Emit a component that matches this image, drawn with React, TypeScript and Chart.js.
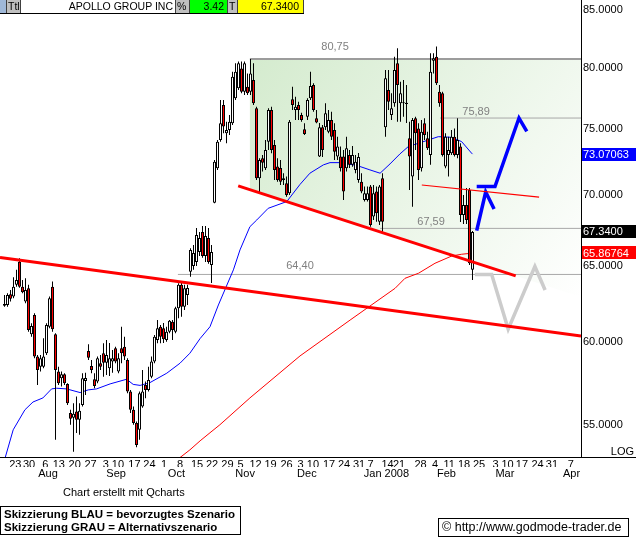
import React, { useEffect, useRef } from 'react';
import { Chart, registerables } from 'chart.js';

Chart.register(...registerables);

// ---------- DATA (daily candles, index = trading day from 17 Jul 2007) ----------
const opens = [62.32,62.37,63.08,62.92,63.70,65.27,63.58,62.59,63.47,60.48,61.72,59.08,58.46,58.46,59.29,60.96,63.58,60.48,58.16,57.75,58.00,57.41,55.68,55.41,55.77,55.29,56.16,57.59,59.43,58.50,57.69,57.55,58.67,59.29,58.70,58.36,58.77,59.60,58.16,59.60,59.70,58.87,56.95,55.87,55.10,54.71,56.06,57.35,57.05,57.85,58.77,60.12,60.96,60.86,60.12,60.64,61.28,60.64,62.15,63.70,62.26,63.03,64.59,64.98,65.25,65.94,67.34,65.66,66.92,65.05,69.44,72.00,74.16,76.94,74.68,74.94,75.48,77.48,78.30,79.95,78.02,78.43,78.02,78.98,76.67,71.25,72.75,72.00,74.03,76.53,73.78,72.12,72.02,71.12,70.87,70.13,77.40,76.53,76.94,76.14,75.00,76.00,77.48,78.57,75.87,72.88,75.16,75.16,74.81,75.74,74.94,72.88,72.88,72.88,72.00,73.01,72.25,71.87,71.12,70.99,69.64,69.64,70.62,68.43,70.25,68.07,71.25,75.16,78.16,76.14,77.07,80.38,77.07,77.07,77.12,74.29,71.37,75.87,75.07,72.00,75.48,74.29,73.01,80.60,80.94,78.02,77.89,72.12,73.01,73.14,74.42,73.01,73.65,68.55,69.27,70.37,64.71];
const highs = [63.03,63.14,63.36,64.21,64.71,65.51,64.03,64.14,63.70,61.18,61.83,59.18,59.18,60.23,61.18,62.92,63.92,60.54,58.46,58.16,58.06,57.45,55.87,56.26,56.65,56.26,58.06,58.08,59.85,58.87,58.06,59.08,59.18,59.91,60.12,59.93,59.49,59.70,59.29,60.96,60.33,58.98,57.05,56.06,55.19,56.95,58.26,57.55,58.46,59.08,60.43,61.39,61.07,61.20,60.96,61.39,61.39,62.26,63.81,63.92,63.70,63.70,66.20,66.43,67.62,67.34,67.76,67.76,67.62,66.43,72.62,74.16,77.34,77.34,75.60,76.14,79.67,80.38,80.52,80.52,80.52,79.53,80.75,80.38,76.80,72.75,73.01,74.16,76.67,76.80,74.16,72.75,72.62,71.62,71.37,75.74,78.43,77.61,77.20,76.32,75.48,77.48,79.67,78.71,76.53,75.50,75.34,77.07,76.53,76.40,75.48,74.42,73.65,73.39,74.42,73.39,73.70,73.01,73.16,71.62,70.62,70.62,70.74,70.74,70.62,70.74,71.62,79.81,79.81,77.89,80.94,81.65,78.84,78.98,78.57,75.60,75.90,76.00,75.48,75.74,75.87,74.81,81.22,81.22,81.80,78.57,78.02,74.68,74.42,74.94,75.07,75.87,73.91,70.00,70.52,70.52,67.40];
const lows = [62.26,62.26,62.59,62.81,63.58,63.50,63.14,62.48,60.64,60.33,58.98,57.35,58.16,58.36,59.18,60.86,60.64,54.14,57.35,57.25,57.35,56.16,55.00,53.47,54.52,54.43,56.06,56.75,58.87,58.06,57.15,57.45,58.26,57.85,57.95,57.89,58.08,58.67,58.06,58.67,58.87,56.85,55.68,55.00,53.72,54.14,55.99,56.55,56.95,57.75,58.67,59.91,59.91,59.93,60.01,60.54,60.12,60.54,61.50,61.61,62.04,62.37,64.25,64.71,64.98,65.66,65.53,65.25,65.12,63.83,69.40,71.87,74.03,74.68,73.91,74.55,75.34,77.34,78.16,77.89,77.75,77.75,77.75,76.94,71.12,70.13,71.74,71.87,73.39,73.14,71.12,70.99,70.74,70.74,69.88,70.00,76.53,75.74,75.74,75.60,74.55,75.74,77.34,76.40,75.48,72.85,72.85,74.94,74.68,74.16,72.62,72.62,71.74,69.64,71.74,72.02,72.10,71.62,70.90,70.13,69.52,69.52,67.71,68.19,68.07,67.83,67.36,74.42,76.53,75.74,76.80,75.60,75.60,76.00,75.50,70.37,69.15,73.39,71.12,71.74,74.16,73.39,72.25,79.53,78.57,76.80,72.88,72.00,71.37,73.01,72.88,72.75,68.05,67.90,67.90,65.05,64.03];
const closes = [62.44,63.03,62.77,63.58,64.03,63.58,63.21,63.36,60.75,61.01,59.08,58.26,58.98,59.08,61.07,62.81,60.80,58.26,57.45,58.00,57.45,56.26,55.35,55.64,55.29,55.81,57.75,57.77,59.01,58.26,57.29,58.98,58.46,58.70,59.18,58.98,58.98,58.77,58.98,59.29,59.08,56.95,55.87,55.10,53.85,56.85,56.95,57.05,57.65,58.77,60.33,60.86,60.33,60.16,60.64,61.35,60.75,62.15,63.70,62.26,63.47,63.49,66.08,65.87,67.13,66.92,65.66,67.06,65.25,65.94,72.49,74.03,75.48,75.21,74.94,75.60,79.25,79.67,80.38,78.02,80.38,77.89,79.53,77.08,71.25,72.62,72.41,73.39,76.53,73.39,71.87,71.12,70.99,71.25,70.00,75.60,76.94,76.80,76.53,75.74,74.63,77.34,78.49,76.53,75.53,75.16,73.39,76.27,75.74,74.42,73.26,73.65,72.00,70.25,73.52,72.25,73.01,72.49,72.85,70.25,70.13,70.13,67.83,70.13,68.67,70.62,68.07,79.12,77.20,76.67,79.81,78.57,77.89,77.12,77.02,72.88,75.74,74.68,71.87,74.81,74.55,73.52,79.67,80.80,78.71,77.07,73.01,74.42,73.39,74.42,73.01,74.16,68.55,69.27,68.19,65.16,67.34];

// moving averages (read positions along the index axis)
const ma50Idx = [0,2.9,6.8,9.5,12.8,15.7,17.4,20.7,25.2,27.9,30.7,35.2,40.7,42.9,45.2,48.5,54.1,58.5,61.8,65.2,68.5,71.3,76.3,78.5,81.8,84.1,87.9,94.1,98.5,101.8,106.3,108.5,111.8,117.4,121.8,125.2,128.5,131.8,134.6,139.2,144.6,149.1,152.4,155.7,156];
const ma50Val = [53.0,54.71,55.87,56.33,56.57,57.11,57.15,57.11,56.89,57.05,57.11,57.41,57.69,57.38,57.32,57.49,58.06,58.67,59.29,60.21,60.96,62.37,64.71,66.08,67.71,68.19,69.03,69.52,70.78,71.62,72.25,72.42,72.42,72.21,71.87,71.62,72.32,73.08,73.65,74.0,74.42,74.37,74.03,73.14,73.07063];
const ma200Idx = [58.2,61.8,65.2,68.5,71.8,81.8,98.5,115.2,130.2,133.5,138,143.5,149.1,152.4,155.7,156];
const ma200Val = [53.1,53.57,54.08,54.54,55.0,56.57,59.12,61.39,63.47,64.14,64.48,65.16,65.66,65.78,65.85,65.86764];

// drawn trend lines and scenario sketches [index, price]
const trendLongX = [-1.5, 192.17];
const trendLongY = [65.55, 60.37];
const channelX = [77.9, 170.4];
const channelY = [70.67, 64.30];
const thinRedX = [139.1, 178.2];
const thinRedY = [70.74, 69.84];
const blueLowX = [157.4, 160.4, 163.2];
const blueLowY = [67.43, 70.22, 68.98];
const blueHighX = [157.4, 163.5, 171.5, 174.1];
const blueHighY = [70.62, 70.62, 75.89, 74.83];
const grayX = [156.8, 162.4, 167.9, 176.8, 180.2];
const grayY = [64.40, 64.40, 60.81, 64.94, 63.36];

// horizontal levels
const levelValues = [80.75, 75.89, 67.59, 64.40];
const levelStart = [81.8, 145.2, 125.2, 57.8];
const levelLabelX = [110.2, 157.2, 142.2, 98.5];

// axes
const yTickValues = [55, 60, 65, 70, 75, 80, 85];
const dayTickPos = [3.6,8.2,13.6,18.1,23.4,28.7,33.8,37.8,43.3,48.3,53.2,58.5,64.2,69.2,74.3,78.7,83.7,88.7,94.0,98.7,102.8,108.2,113.2,118.2,122.0,127.7,131.5,138.7,143.5,148.2,153.2,158.2,163.7,167.7,172.5,177.7,182.5,188.8];
const dayTickLabels = ['23','30','6','13','20','27','3','10','17','24','1','8','15','22','29','5','12','19','26','3','10','17','24','31','7','14','21','28','4','11','18','25','3','10','17','24','31','7'];
const monthTickPos = [14.5, 37.2, 57.3, 80.2, 100.8, 127.3, 147.3, 166.8, 189.0];
const monthTickLabels = ['Aug', 'Sep', 'Oct', 'Nov', 'Dec', 'Jan 2008', 'Feb', 'Mar', 'Apr'];

const X_MIN = -1.5;
const X_MAX = 192.17;
const Y_MIN = 53.17;
const Y_MAX = 85.9;

const FONT = '"Liberation Sans", Arial, sans-serif';

const pts = (xs: number[], ys: number[]) => xs.map((x, i) => ({ x, y: ys[i] }));

const noPad = (s: any) => { s.paddingTop = 0; s.paddingBottom = 0; s.paddingLeft = 0; s.paddingRight = 0; };

const shadePlugin = {
  id: 'shade',
  beforeDatasetsDraw(chart: any) {
    const { ctx, chartArea, scales } = chart;
    const xs = scales.x, ys = scales.y;
    const x0 = xs.getPixelForValue(levelStart[0]);
    const yTop = ys.getPixelForValue(levelValues[0]);
    const cx1 = xs.getPixelForValue(channelX[0]), cy1 = ys.getPixelForValue(channelY[0]);
    const cx2 = xs.getPixelForValue(channelX[1]), cy2 = ys.getPixelForValue(channelY[1]);
    const slope = (cy2 - cy1) / (cx2 - cx1);
    const yAt = (x: number) => cy1 + slope * (x - cx1);
    const xR = chartArea.right;
    ctx.save();
    const g = ctx.createLinearGradient(x0, yTop, xR, yAt(xR));
    g.addColorStop(0, 'rgb(212,235,206)');
    g.addColorStop(1, 'rgb(255,255,255)');
    ctx.fillStyle = g;
    ctx.beginPath();
    ctx.moveTo(x0, yTop);
    ctx.lineTo(xR, yTop);
    ctx.lineTo(xR, yAt(xR));
    ctx.lineTo(x0, yAt(x0));
    ctx.closePath();
    ctx.fill();
    ctx.restore();
  },
  afterDatasetsDraw(chart: any) {
    const { ctx, scales } = chart;
    const gaps = [9, 3.5, 3.5, 5];
    ctx.save();
    ctx.font = '11px ' + FONT;
    ctx.fillStyle = '#808080';
    ctx.textAlign = 'center';
    ctx.textBaseline = 'alphabetic';
    levelValues.forEach((v, i) => {
      const x = scales.x.getPixelForValue(levelLabelX[i]);
      const y = scales.y.getPixelForValue(v) - gaps[i];
      ctx.fillText(v.toFixed(2).replace('.', ','), x, y);
    });
    ctx.restore();
  },
  afterDraw(chart: any) {
    const { ctx, chartArea, scales, width } = chart;
    ctx.save();
    ctx.strokeStyle = '#000';
    ctx.lineWidth = 1;
    ctx.beginPath();
    ctx.moveTo(chartArea.right + 0.5, 0);
    ctx.lineTo(chartArea.right + 0.5, chartArea.bottom + 0.5);
    ctx.moveTo(0, chartArea.bottom + 0.5);
    ctx.lineTo(width, chartArea.bottom + 0.5);
    ctx.stroke();
    const boxes = [
      { v: ma50Val[ma50Val.length - 1], bg: '#0000ff', t: ma50Val[ma50Val.length - 1].toFixed(5) },
      { v: closes[closes.length - 1], bg: '#000000', t: closes[closes.length - 1].toFixed(4) },
      { v: ma200Val[ma200Val.length - 1], bg: '#ff0000', t: ma200Val[ma200Val.length - 1].toFixed(5) },
    ];
    ctx.font = '11px ' + FONT;
    ctx.textBaseline = 'middle';
    ctx.textAlign = 'left';
    boxes.forEach((b) => {
      const y = scales.y.getPixelForValue(b.v);
      ctx.fillStyle = b.bg;
      ctx.fillRect(chartArea.right + 1, Math.round(y - 6.5), width - chartArea.right - 1, 13);
      ctx.fillStyle = '#fff';
      ctx.fillText(b.t, chartArea.right + 2, y + 0.5);
    });
    ctx.fillStyle = '#000';
    ctx.textAlign = 'right';
    ctx.textBaseline = 'alphabetic';
    ctx.fillText('LOG', width - 2, chartArea.bottom - 2);
    ctx.restore();
  },
};

export default function App() {
  const ref = useRef<HTMLCanvasElement>(null);
  useEffect(() => {
    Chart.defaults.font.family = FONT;
    const bodies = opens.map((o, i) => ({ x: i, y: [Math.min(o, closes[i]), Math.max(o, closes[i])] }));
    const wicks = lows.map((l, i) => ({ x: i, y: [l, highs[i]] }));
    const bodyColors = opens.map((o, i) => (closes[i] >= o ? '#ffffff' : '#ff0000'));
    const lineDs = (data: any[], color: string, w: number, order: number) => ({
      type: 'line' as const, data, borderColor: color, borderWidth: w, pointRadius: 0,
      fill: false, tension: 0, order, borderCapStyle: 'butt' as const, borderJoinStyle: 'miter' as const,
    });
    const datasets: any[] = [
      lineDs(pts(trendLongX, trendLongY), '#ff0000', 3, 0),
      lineDs(pts(channelX, channelY), '#ff0000', 3, 0),
      lineDs(pts(thinRedX, thinRedY), '#ff0000', 1.2, 0),
      lineDs(pts(blueLowX, blueLowY), '#0000ff', 3.5, 0),
      lineDs(pts(blueHighX, blueHighY), '#0000ff', 3.5, 0),
      lineDs(pts(grayX, grayY), '#cccccc', 3.5, 0),
      {
        type: 'bar', data: bodies, backgroundColor: bodyColors, borderColor: '#000000', borderWidth: 1,
        borderSkipped: false, barThickness: 3, minBarLength: 1, grouped: false, inflateAmount: 0, order: 1,
      },
      {
        type: 'bar', data: wicks, backgroundColor: '#000000', borderWidth: 0,
        barThickness: 1, grouped: false, inflateAmount: 0, order: 2,
      },
      lineDs(pts(ma50Idx, ma50Val), '#0000ff', 1, 3),
      lineDs(pts(ma200Idx, ma200Val), '#ff0000', 1, 3),
      ...levelValues.map((v, i) =>
        lineDs([{ x: levelStart[i], y: v }, { x: X_MAX, y: v }], i === 0 ? '#9c9c9c' : '#a8a8a8', i === 0 ? 2 : 1, 4)
      ),
    ];
    const chart = new Chart(ref.current as HTMLCanvasElement, {
      type: 'bar',
      data: { datasets },
      plugins: [shadePlugin],
      options: {
        animation: false,
        responsive: false,
        devicePixelRatio: 1,
        events: [],
        layout: { autoPadding: false, padding: { left: 0, top: 0, right: 0, bottom: 58 } },
        plugins: { legend: { display: false }, tooltip: { enabled: false } },
        scales: {
          x: {
            type: 'linear', min: X_MIN, max: X_MAX, offset: false, weight: 0, position: 'bottom',
            grid: { display: false, drawTicks: false }, border: { display: false },
            afterBuildTicks: (s: any) => { s.ticks = dayTickPos.map((v) => ({ value: v })); },
            afterFit: (s: any) => { s.height = 10; noPad(s); },
            ticks: {
              autoSkip: false, maxRotation: 0, minRotation: 0, padding: 1.5, color: '#000',
              font: { size: 11, family: FONT }, callback: (_v: any, i: number) => dayTickLabels[i],
            },
          },
          x2: {
            type: 'linear', axis: 'x', min: X_MIN, max: X_MAX, offset: false, weight: 1, position: 'bottom',
            grid: { display: false, drawTicks: false }, border: { display: false },
            afterBuildTicks: (s: any) => { s.ticks = monthTickPos.map((v) => ({ value: v })); },
            afterFit: (s: any) => { s.height = 14; noPad(s); },
            ticks: {
              autoSkip: false, maxRotation: 0, minRotation: 0, padding: 0, color: '#000',
              font: { size: 11, family: FONT }, callback: (_v: any, i: number) => monthTickLabels[i],
            },
          },
          y: {
            type: 'logarithmic', position: 'right', min: Y_MIN, max: Y_MAX,
            grid: { display: false, drawTicks: false }, border: { display: false },
            afterBuildTicks: (s: any) => { s.ticks = yTickValues.map((v) => ({ value: v })); },
            afterFit: (s: any) => { s.width = 55; noPad(s); },
            ticks: {
              autoSkip: false, padding: 2, color: '#000', font: { size: 11, family: FONT },
              callback: (v: any) => Number(v).toFixed(4),
            },
          },
        } as any,
      },
    } as any);
    return () => chart.destroy();
  }, []);

  const hdrBox = (left: number, width: number, bg: string, text: string, align: 'left' | 'right', pad: number) => (
    <div style={{
      position: 'absolute', left, top: 0, width, height: 13, background: bg, borderRight: '1px solid #404040',
      boxSizing: 'border-box', fontSize: 10.5, lineHeight: '13px', textAlign: align,
      paddingLeft: align === 'left' ? pad : 0, paddingRight: align === 'right' ? pad : 0, whiteSpace: 'nowrap', overflow: 'hidden',
    }}>{text}</div>
  );

  return (
    <div style={{ position: 'fixed', left: 0, top: 0, width: 636, height: 539, background: '#fff', overflow: 'hidden', fontFamily: FONT, color: '#000' }}>
      <canvas ref={ref} width={636} height={539} style={{ position: 'absolute', left: 0, top: 0, width: 636, height: 539 }} />
      <div style={{ position: 'absolute', left: 0, top: 0, width: 304, height: 14, borderBottom: '1px solid #000', boxSizing: 'border-box' }} />
      {hdrBox(0, 7, '#9fb8d8', '', 'left', 0)}
      {hdrBox(7, 14, '#c0c0c0', 'Ttl', 'left', 1)}
      {hdrBox(21, 155, '#ffffff', 'APOLLO GROUP INC', 'right', 2)}
      {hdrBox(176, 14, '#c0c0c0', '%', 'left', 1)}
      {hdrBox(190, 38, '#00ff00', '3.42', 'right', 3)}
      {hdrBox(228, 10, '#c0c0c0', 'T', 'left', 1)}
      {hdrBox(238, 66, '#ffff00', '67.3400', 'right', 4)}
      <div style={{ position: 'absolute', left: 63, top: 486, fontSize: 11, lineHeight: '13px', whiteSpace: 'nowrap' }}>Chart erstellt mit Qcharts</div>
      <div style={{ position: 'absolute', left: 0, top: 506, width: 241, height: 29, border: '1px solid #000', boxSizing: 'border-box', fontSize: 11.5, fontWeight: 'bold', lineHeight: '13px', paddingLeft: 3, paddingTop: 1, whiteSpace: 'nowrap' }}>
        <div>Skizzierung BLAU = bevorzugtes Szenario</div>
        <div>Skizzierung GRAU = Alternativszenario</div>
      </div>
      <div style={{ position: 'absolute', left: 438, top: 518, width: 191, height: 19, border: '1px solid #000', boxSizing: 'border-box', fontSize: 12.5, lineHeight: '17px', paddingLeft: 3, whiteSpace: 'nowrap' }}>© http://www.godmode-trader.de</div>
    </div>
  );
}
